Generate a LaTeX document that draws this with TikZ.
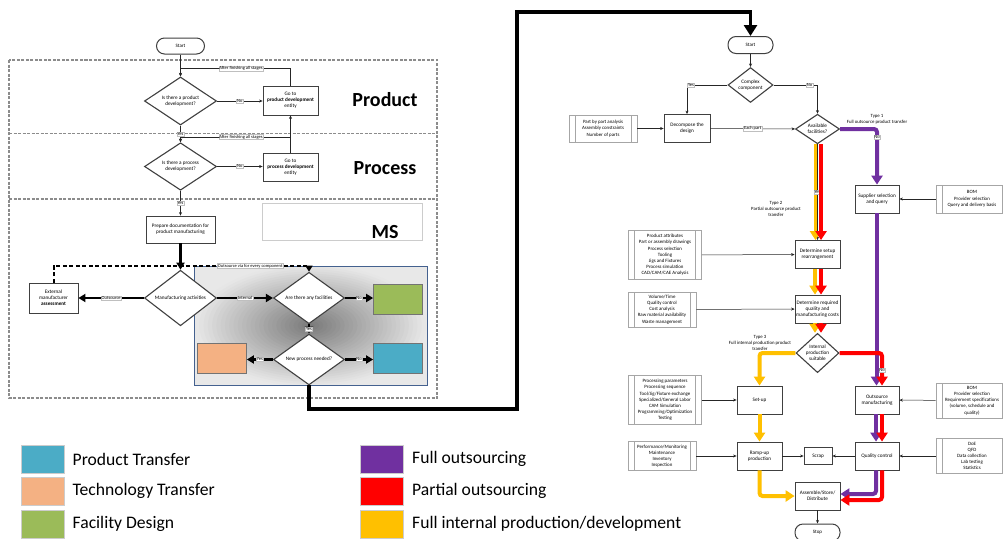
\documentclass[tikz,border=0pt]{standalone}
\usepackage{fontspec}
\setmainfont{Carlito}
\usetikzlibrary{shapes.geometric,arrows.meta}
\definecolor{boxc}{HTML}{404040}
\definecolor{infoc}{HTML}{A6A6A6}
\definecolor{dashc}{HTML}{8C8C8C}
\definecolor{gradb}{HTML}{44618F}
\definecolor{cblue}{HTML}{4BACC6}
\definecolor{corange}{HTML}{F4B183}
\definecolor{cgreen}{HTML}{9BBB59}
\definecolor{cpurple}{HTML}{7030A0}
\definecolor{cred}{HTML}{FF0000}
\definecolor{cyellow}{HTML}{FFC000}
\newcommand\fsz[2]{\fontsize{#1}{#2}\selectfont}
\tikzset{
 mbox/.style={draw=boxc, line width=0.8pt, fill=white, align=center, inner sep=0pt, font=\fsz{5.2}{6.2}, minimum width=45, minimum height=28},
 dia/.style={diamond, draw=boxc, line width=1.1pt, fill=white, align=center, inner sep=0pt, font=\fsz{5.2}{6.2}},
 term/.style={draw=boxc, line width=1pt, rounded corners=8pt, fill=white, font=\fsz{5}{6}, minimum width=45, minimum height=17, inner sep=0pt},
 info/.style={draw=infoc, line width=0.6pt, fill=white, align=center, inner sep=0pt, font=\fsz{4.9}{6.2},
   path picture={\draw[infoc, line width=0.5pt] ([xshift=6pt]path picture bounding box.north west) -- ([xshift=6pt]path picture bounding box.south west) ([xshift=-6pt]path picture bounding box.north east) -- ([xshift=-6pt]path picture bounding box.south east);}},
 conn/.style={draw=black!85, line width=0.5pt, -{Stealth[length=3.5pt,width=3pt]}},
 tconn/.style={draw=black, line width=2.3pt, -{Triangle[length=7pt,width=8pt]}},
 lab/.style={fill=white, draw=black!25, line width=0.3pt, inner sep=0.6pt, font=\fsz{4.5}{5}},
 cline/.style={line width=4pt, rounded corners=3pt, -{Triangle[length=9pt,width=11pt]}},
 cbox/.style={draw=black!55, line width=0.7pt, minimum width=49, minimum height=30, inner sep=0pt},
 zone/.style={draw=dashc, line width=1.4pt, dash pattern=on 3pt off 1.5pt},
 big/.style={font=\fsz{20}{24}\bfseries},
 note/.style={align=center, font=\fsz{4.8}{6}},
 legsq/.style={draw=black!20, line width=0.5pt, minimum width=43, minimum height=28, inner sep=0pt},
 legtx/.style={anchor=west, inner sep=0pt, font=\fsz{17.6}{20}},
}
\begin{document}
\begin{tikzpicture}[x=1pt,y=-1pt]
\clip (0,0) rectangle (1003,538);
\fill[white] (0,0) rectangle (1003,538);

% ---------- left: zones ----------
\draw[zone] (9,60) rectangle (437,398);
\draw[zone] (9,133.5) -- (437,133.5);
\draw[zone] (9,199) -- (437,199);
\node[big] (tProd) at (385,100) {Product};
\node[big] (tProc) at (385,168.5) {Process};
\node[draw=black!20, line width=0.6pt, minimum width=160, minimum height=37, inner sep=0pt] (msbox) at (342,221.5) {};
\node[big] (tMS) at (385,232) {MS};

% gradient panel (concentric ellipses)
\begin{scope}
\clip (194,266) rectangle (427,385);
\foreach \i in {0,...,39} {
  \pgfmathsetmacro\f{1.45*(1-\i/40)}
  \pgfmathsetmacro\g{0.47+0.44*min(\f,1)}
  \pgfmathsetmacro\rx{118*\f}
  \pgfmathsetmacro\ry{62*\f}
  \definecolor{pgr}{gray}{\g}
  \fill[pgr] (310.5,325.5) ellipse [x radius=\rx pt, y radius=\ry pt];
}
\end{scope}
\draw[gradb, line width=1pt] (194,266) rectangle (427,385);

% ---------- left: nodes ----------
\node[term, minimum width=48, minimum height=16] (sL) at (180.5,46) {Start};
\node[dia, minimum width=72, minimum height=46] (d1) at (180.5,101) {Is there a product\\development?};
\node[mbox, minimum width=55, minimum height=29] (b1) at (290.5,100.5) {Go to\\\textbf{product development}\\entity};
\node[dia, minimum width=72, minimum height=47] (d2) at (180.5,166.5) {Is there a process\\development?};
\node[mbox, minimum width=55, minimum height=28] (b2) at (290.5,167) {Go to\\\textbf{process development}\\entity};
\node[mbox, minimum width=69, minimum height=27] (prep) at (180.5,229.5) {Prepare documentation for\\product manufacturing};
\node[dia, minimum width=72, minimum height=46] (mfg) at (180.5,298) {Manufacturing activities};
\node[mbox, minimum width=49, minimum height=30] (ext) at (53.5,298) {External\\manufacturer\\\textbf{assessment}};
\node[dia, minimum width=71, minimum height=45] (fac) at (309,298) {Are there any facilities};
\node[dia, minimum width=71, minimum height=45] (newp) at (309,359.5) {New process needed?};
\node[cbox, fill=cgreen] (green) at (398,299) {};
\node[cbox, fill=corange] (orange) at (222,358) {};
\node[cbox, fill=cblue] (blue) at (398,358) {};

\coordinate (k2) at (290.5,137);
\coordinate (ov) at (309,266);

% ---------- left: connectors ----------
\draw[conn] (sL) -- (d1);
\draw[conn] (b1.north) -- ++(0,-17) -| node[pos=0.225, lab]{After finishing all stages} (d1.north);
\draw[conn] (d1.east) -- node[lab]{No} (d1.east -| b1.west);
\draw[conn] (d1) -- node[lab]{Yes} (d2);
\draw[conn] (b2) -- (b1);
\draw[conn] (k2) -| node[pos=0.225, lab]{After finishing all stages} (d2.north);
\draw[conn] (d2.east) -- node[lab]{No} (d2.east -| b2.west);
\draw[conn] (d2) -- node[lab]{Yes} (prep);
\draw[tconn] (prep) -- (mfg);
\draw[tconn] (mfg) -- node[lab]{Outsource} (ext);
\draw[tconn] (mfg) -- node[lab]{Internal} (fac);
\draw[tconn] (fac.east) -- node[lab]{No} (fac.east -| green.west);
\draw[tconn] (fac) -- node[lab]{Yes} (newp);
\draw[tconn] (newp.west) -- node[lab]{Yes} (newp.west -| orange.east);
\draw[tconn] (newp.east) -- node[lab]{No} (newp.east -| blue.west);
\draw[line width=2pt, dash pattern=on 4pt off 2.5pt, -{Triangle[length=6pt,width=7pt]}] (ext.north) |- (ov) -- (fac.north);
\path (ext.north) |- node[pos=0.885, lab]{Outsource via for every component} (ov);

% ---------- right: nodes ----------
\node[term] (sR) at (750.5,45) {Start};
\node[dia, minimum width=45, minimum height=28] (cx) at (750.5,85) {Complex\\component};
\node[info, minimum width=68, minimum height=27] (partbox) at (603,128.5) {Part by part analysis\\Assembly constraints\\Number of parts};
\node[mbox, minimum width=46] (decomp) at (687,128.5) {Decompose the\\design};
\node[dia, minimum width=44, minimum height=28] (avail) at (817.5,129) {Available\\facilities?};
\node[mbox, minimum width=44] (supplier) at (877,199) {Supplier selection\\and query};
\node[info, minimum width=72, minimum height=28] (bom1) at (972,199) {BOM\\Provider selection\\Query and delivery basis};
\node[mbox] (setup) at (817.5,254.5) {Determine setup\\rearrangement};
\node[info, minimum width=73, minimum height=49] (attr) at (665,255) {Product attributes\\Part or assembly drawings\\Process selection\\Tooling\\Jigs and Fixtures\\Process simulation\\CAD/CAM/CAE Analysis};
\node[mbox] (quality) at (817.5,309) {Determine required\\quality and\\manufacturing costs};
\node[info, minimum width=68, minimum height=35] (volume) at (662,309.5) {Volume/Time\\Quality control\\Cost analysis\\Raw material availability\\Waste management};
\node[dia, minimum width=43, minimum height=30] (internal) at (817.5,353) {Internal\\production\\suitable};
\node[mbox] (setupbox) at (759.5,400) {Set-up};
\node[info, minimum width=73, minimum height=49] (procparam) at (665,400) {Processing parameters\\Processing sequence\\Tool/Jig/Fixture exchange\\Specialized/General Labor\\CAM Simulation\\Programming/Optimization\\Testing};
\node[mbox, minimum width=44] (outsrc) at (877,400) {Outsource\\manufacturing};
\node[info, minimum width=72, minimum height=35] (bom2) at (972,400.5) {BOM\\Provider selection\\Requirement specifications\\(volume, schedule and\\quality)};
\node[mbox] (ramp) at (759.5,456) {Ramp-up\\production};
\node[info, minimum width=68, minimum height=29] (perf) at (662,456) {Performance/Monitoring\\Maintenance\\Inventory\\Inspection};
\node[mbox, minimum width=28, minimum height=17] (scrap) at (818,456) {Scrap};
\node[mbox, minimum width=44] (qc) at (877,456) {Quality control};
\node[info, minimum width=72, minimum height=35] (doe) at (972,456) {DoE\\QFD\\Data collection\\Lab testing\\Statistics};
\node[mbox] (assemble) at (817.5,496) {Assemble/Store/\\Distribute};
\node[term] (stop) at (817.5,532.5) {Stop};

\node[note] (ty1) at (877,119) {Type 1\\Full outsource product transfer};
\node[note] (ty2) at (776,209) {Type 2\\Partial outsource product\\transfer};
\node[note] (ty3) at (760,342.5) {Type 3\\Full internal production product\\transfer};

% ---------- right: thin connectors ----------
\draw[conn] (sR) -- (cx);
\draw[conn] (cx.west) -| node[pos=0.45, lab]{Yes} (decomp.north);
\draw[conn] (cx.east) -| node[pos=0.41, lab]{No} (avail.north);
\draw[conn] (partbox) -- (decomp);
\draw[conn] (decomp) -- node[lab]{Each part} (avail);
\draw[conn] (avail) -- (setup);
\draw[conn] (bom1) -- (supplier);
\draw[conn] (attr) -- (setup);
\draw[conn] (volume) -- (quality);
\draw[conn] (procparam) -- (setupbox);
\draw[conn] (bom2) -- (outsrc);
\draw[conn] (perf) -- (ramp);
\draw[conn] (doe) -- (qc);
\draw[conn] (ramp) -- (scrap);
\draw[conn] (qc) -- (scrap);
\draw[conn] (assemble) -- (stop);

% ---------- right: coloured routes ----------
\draw[cline, cpurple] (avail.east) -| (supplier.north);
\path (avail.east) -| node[pos=0.57, lab]{No} (supplier.north);
\draw[cline, cpurple] ([xshift=-0.5pt]supplier.south) -- ([xshift=-0.5pt]outsrc.north);

\draw[cline, cyellow, line width=3.5pt] ([xshift=-2pt]avail.south) -- ([xshift=-2pt]setup.north);
\path (avail.south) -- node[lab]{Yes} (setup.north);
\draw[cline, cred] ([xshift=3.5pt]avail.south) -- ([xshift=3.5pt]setup.north);
\draw[cline, cyellow] ([xshift=-2.5pt]setup.south) -- ([xshift=-2.5pt]quality.north);
\draw[cline, cred] ([xshift=3.5pt]setup.south) -- ([xshift=3.5pt]quality.north);
\draw[cline, cyellow] ([xshift=-2.5pt]quality.south) -- ([xshift=-2.5pt]internal.north);
\draw[cline, cred] ([xshift=3.5pt]quality.south) -- ([xshift=3.5pt]internal.north);

\draw[cline, cyellow] (internal.west) -| (setupbox.north);
\draw[cline, cred] (internal.east) -| ([xshift=5pt]outsrc.north);
\path (internal.east) -| node[pos=0.76, lab]{No} ([xshift=5pt]outsrc.north);

\draw[cline, cyellow] (setupbox) -- (ramp);
\draw[cline, cyellow] (ramp.south) |- (assemble.west);
\draw[cline, cpurple] ([xshift=-1pt]outsrc.south) -- ([xshift=-1pt]qc.north);
\draw[cline, cred] ([xshift=5pt]outsrc.south) -- ([xshift=5pt]qc.north);
\draw[cline, cpurple] ([xshift=-1pt]qc.south) |- ([yshift=2pt]assemble.east);
\draw[cline, cred] ([xshift=5pt]qc.south) |- ([yshift=-4pt]assemble.east);

% ---------- big link ----------
\coordinate (bb1) at (309,409);
\coordinate (bb2) at (517,409);
\coordinate (bb3) at (517,12);
\coordinate (bb4) at (750.5,12);
\draw[line width=3.5pt, -{Triangle[length=11pt,width=13pt]}] (newp.south) -- (bb1) -- (bb2) -- (bb3) -- (bb4) -- (sR.north);

% ---------- legend ----------
\node[legsq, fill=cblue] (lg1) at (42.5,459) {};
\node[legtx] (lt1) at (72.5,459) {Product Transfer};
\node[legsq, fill=corange] (lg2) at (42.5,491) {};
\node[legtx] (lt2) at (72.5,491) {Technology Transfer};
\node[legsq, fill=cgreen] (lg3) at (42.5,524) {};
\node[legtx] (lt3) at (72.5,524) {Facility Design};
\node[legsq, fill=cpurple] (lg4) at (381.5,459) {};
\node[legtx] (lt4) at (412,459) {Full outsourcing};
\node[legsq, fill=cred] (lg5) at (381.5,491) {};
\node[legtx] (lt5) at (412,491) {Partial outsourcing};
\node[legsq, fill=cyellow] (lg6) at (381.5,524) {};
\node[legtx] (lt6) at (412,524) {Full internal production/development};
\end{tikzpicture}
\end{document}
